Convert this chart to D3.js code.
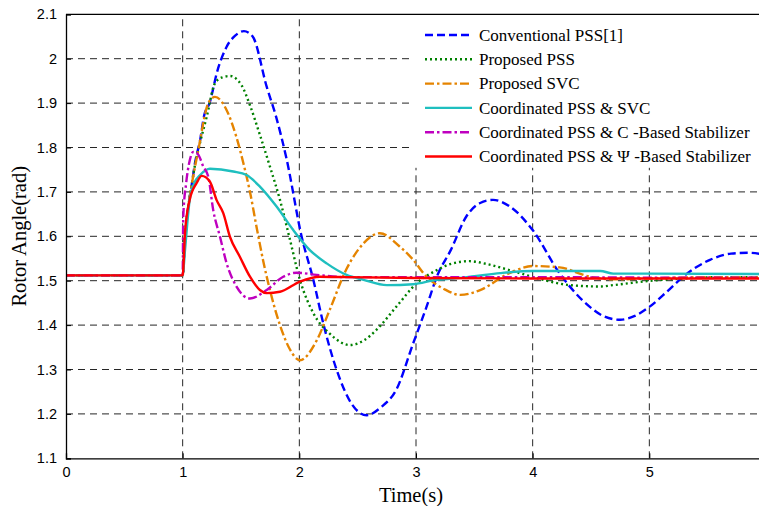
<!DOCTYPE html>
<html>
<head>
<meta charset="utf-8">
<script src="https://cdn.jsdelivr.net/npm/d3@7"></script>
<style>
  body { margin: 0; background: #fff; }
  svg { display: block; }
</style>
</head>
<body>
<svg id="drawing_region"></svg>
<script>
// values
const xticks = [0, 1, 2, 3, 4, 5];
const yticks = [1.1, 1.2, 1.3, 1.4, 1.5, 1.6, 1.7, 1.8, 1.9, 2.0, 2.1];
const ytick_labels = ['1.1', '1.2', '1.3', '1.4', '1.5', '1.6', '1.7', '1.8', '1.9', '2', '2.1'];

const labels = [
    'Conventional PSS[1]',
    'Proposed PSS',
    'Proposed SVC',
    'Coordinated PSS & SVC',
    'Coordinated PSS & C -Based Stabilizer',
    'Coordinated PSS & \u03A8 -Based Stabilizer'
];

const conv_t = [0, 1.0, 1.02, 1.05, 1.08, 1.105, 1.15, 1.185, 1.23, 1.3, 1.377, 1.45, 1.525, 1.6, 1.72, 1.8, 1.89, 2.02, 2.12, 2.205, 2.32, 2.45, 2.577, 2.7, 2.83, 2.976, 3.09, 3.18, 3.3, 3.43, 3.55, 3.66, 3.8, 4.0, 4.23, 4.49, 4.6, 4.75, 4.87, 5.0, 5.15, 5.29, 5.52, 5.7, 5.85, 6.0];
const conv_v = [1.512, 1.512, 1.60, 1.67, 1.72, 1.764, 1.817, 1.873, 1.90, 1.975, 2.027, 2.052, 2.062, 2.05, 1.937, 1.87, 1.775, 1.599, 1.502, 1.404, 1.299, 1.222, 1.197, 1.215, 1.254, 1.359, 1.441, 1.51, 1.57, 1.644, 1.675, 1.682, 1.668, 1.614, 1.517, 1.441, 1.421, 1.412, 1.42, 1.441, 1.475, 1.509, 1.547, 1.561, 1.563, 1.558];

const pss_t = [0, 1.0, 1.02, 1.05, 1.08, 1.105, 1.15, 1.206, 1.277, 1.34, 1.405, 1.505, 1.577, 1.66, 1.748, 1.834, 1.92, 2.005, 2.12, 2.26, 2.434, 2.55, 2.66, 2.83, 3.005, 3.18, 3.3, 3.46, 3.6, 3.8, 4.09, 4.32, 4.58, 4.69, 4.98, 5.3, 5.6, 6.0];
const pss_v = [1.512, 1.512, 1.60, 1.67, 1.72, 1.76, 1.812, 1.869, 1.945, 1.958, 1.961, 1.94, 1.895, 1.83, 1.757, 1.682, 1.592, 1.502, 1.427, 1.381, 1.355, 1.365, 1.389, 1.441, 1.494, 1.524, 1.538, 1.544, 1.538, 1.524, 1.502, 1.490, 1.487, 1.490, 1.499, 1.505, 1.508, 1.508];

const svc_t = [0, 1.0, 1.02, 1.05, 1.08, 1.134, 1.22, 1.277, 1.377, 1.46, 1.52, 1.577, 1.634, 1.69, 1.748, 1.834, 1.92, 2.005, 2.15, 2.26, 2.40, 2.55, 2.69, 2.86, 2.976, 3.09, 3.15, 3.25, 3.38, 3.55, 3.80, 4.0, 4.23, 4.49, 4.7, 5.0, 5.5, 6.0];
const svc_v = [1.512, 1.512, 1.60, 1.67, 1.72, 1.794, 1.90, 1.914, 1.884, 1.824, 1.765, 1.70, 1.62, 1.545, 1.479, 1.40, 1.345, 1.321, 1.366, 1.434, 1.524, 1.584, 1.607, 1.577, 1.547, 1.509, 1.496, 1.48, 1.468, 1.479, 1.517, 1.533, 1.530, 1.509, 1.503, 1.505, 1.508, 1.507];

const pss_svc_t = [0, 1.0, 1.02, 1.06, 1.1, 1.15, 1.234, 1.434, 1.548, 1.662, 1.805, 1.948, 2.09, 2.234, 2.405, 2.55, 2.75, 2.976, 3.18, 3.29, 3.5, 3.72, 4.0, 4.58, 4.69, 5.0, 6.0];
const pss_svc_v = [1.512, 1.512, 1.569, 1.682, 1.72, 1.738, 1.752, 1.746, 1.738, 1.712, 1.667, 1.614, 1.569, 1.539, 1.513, 1.502, 1.490, 1.492, 1.502, 1.504, 1.51, 1.517, 1.522, 1.522, 1.516, 1.516, 1.515];

const c_based_t = [0, 1.0, 1.005, 1.03, 1.06, 1.09, 1.13, 1.177, 1.22, 1.262, 1.32, 1.377, 1.463, 1.577, 1.72, 1.862, 1.977, 2.15, 2.4, 3.0, 4.0, 5.0, 6.0];
const c_based_v = [1.512, 1.512, 1.644, 1.72, 1.77, 1.79, 1.785, 1.757, 1.734, 1.659, 1.599, 1.539, 1.486, 1.460, 1.479, 1.509, 1.518, 1.513, 1.508, 1.508, 1.508, 1.507, 1.507];

const psi_based_t = [0, 1.0, 1.02, 1.06, 1.12, 1.163, 1.234, 1.29, 1.348, 1.405, 1.49, 1.577, 1.662, 1.72, 1.834, 2.005, 2.177, 2.405, 3.0, 4.0, 5.0, 6.0];
const psi_based_v = [1.512, 1.512, 1.607, 1.682, 1.72, 1.736, 1.723, 1.682, 1.652, 1.599, 1.554, 1.509, 1.479, 1.472, 1.475, 1.498, 1.509, 1.508, 1.506, 1.505, 1.505, 1.505];

const series = [
    { t: conv_t,      v: conv_v,      color: '#0000ff', dash: '8,4' },
    { t: pss_t,       v: pss_v,       color: '#008000', dash: '2,3' },
    { t: svc_t,       v: svc_v,       color: '#e58400', dash: '9,3,2.5,3' },
    { t: pss_svc_t,   v: pss_svc_v,   color: '#1fbfbf', dash: null },
    { t: c_based_t,   v: c_based_v,   color: '#bf00bf', dash: '9,3,2.5,3' },
    { t: psi_based_t, v: psi_based_v, color: '#ff0000', dash: null }
];

const config = {
    width: 759,
    height: 506,
    margin: { top: 14.3, right: -7, bottom: 47.7, left: 66 }
};

const svg = d3.select('#drawing_region')
    .attr('width', config.width)
    .attr('height', config.height);

const x0 = config.margin.left;
const x1 = config.width - config.margin.right;
const y0 = config.height - config.margin.bottom;
const y1 = config.margin.top;

const xscale = d3.scaleLinear().domain([0, 6]).range([x0, x1]);
const yscale = d3.scaleLinear().domain([1.1, 2.1]).range([y0, y1]);

svg.append('defs').append('clipPath')
    .attr('id', 'plot_clip')
    .append('rect')
    .attr('x', x0).attr('y', y1)
    .attr('width', x1 - x0).attr('height', y0 - y1);

// grid
const grid = svg.append('g')
    .attr('stroke', '#262626')
    .attr('stroke-width', 1)
    .attr('stroke-dasharray', '7,5');

grid.selectAll('.vgrid')
    .data(xticks.slice(1))
    .enter()
    .append('line')
    .attr('x1', d => xscale(d)).attr('x2', d => xscale(d))
    .attr('y1', y0).attr('y2', y1);

grid.selectAll('.hgrid')
    .data(yticks.slice(1, -1))
    .enter()
    .append('line')
    .attr('x1', x0).attr('x2', x1)
    .attr('y1', d => yscale(d)).attr('y2', d => yscale(d));

// curves
const line = d3.line()
    .x(d => xscale(d[0]))
    .y(d => yscale(d[1]))
    .curve(d3.curveMonotoneX);

svg.append('g')
    .attr('clip-path', 'url(#plot_clip)')
    .selectAll('path')
    .data(series)
    .enter()
    .append('path')
    .attr('d', s => line(s.t.map((t, i) => [t, s.v[i]])))
    .attr('fill', 'none')
    .attr('stroke', s => s.color)
    .attr('stroke-width', 2.4)
    .attr('stroke-dasharray', s => s.dash)
    .attr('stroke-linejoin', 'round');

// legend (white box, no border)
const legend = svg.append('g');
legend.append('rect')
    .attr('x', 410).attr('y', y1 + 1.5)
    .attr('width', config.width - 410).attr('height', 152)
    .attr('fill', '#fff');

const rows = legend.selectAll('.row')
    .data(series)
    .enter()
    .append('g')
    .attr('transform', (d, i) => `translate(0, ${35 + i * 24.3})`);

rows.append('line')
    .attr('x1', 425).attr('x2', 472)
    .attr('y1', 0).attr('y2', 0)
    .attr('stroke', d => d.color)
    .attr('stroke-width', 2.4)
    .attr('stroke-dasharray', d => d.dash);

rows.append('text')
    .attr('x', 479)
    .attr('y', 5.8)
    .attr('font-family', '"Liberation Serif", "Times New Roman", serif')
    .attr('font-size', '17px')
    .attr('fill', '#000')
    .text((d, i) => labels[i]);

// axes
const xaxis = d3.axisBottom(xscale).tickValues(xticks).tickSize(-5).tickPadding(8).tickFormat(d3.format('d'));
const yaxis = d3.axisLeft(yscale).tickValues(yticks).tickSize(-5).tickPadding(9).tickFormat((d, i) => ytick_labels[i]);

const xaxis_group = svg.append('g')
    .attr('transform', `translate(0, ${y0})`)
    .call(xaxis);

const yaxis_group = svg.append('g')
    .attr('transform', `translate(${x0}, 0)`)
    .call(yaxis);

[xaxis_group, yaxis_group].forEach(g => {
    g.select('.domain').attr('stroke', '#000').attr('stroke-width', 1.3);
    g.selectAll('.tick line').attr('stroke', '#000');
    g.selectAll('.tick text')
        .attr('font-family', '"Liberation Sans", Arial, sans-serif')
        .attr('font-size', '14.5px')
        .attr('fill', '#000');
});

// top border
svg.append('line')
    .attr('x1', x0).attr('x2', x1)
    .attr('y1', y1).attr('y2', y1)
    .attr('stroke', '#000').attr('stroke-width', 1.3);

// axis labels
svg.append('text')
    .attr('x', 411)
    .attr('y', 502)
    .attr('text-anchor', 'middle')
    .attr('font-family', '"Liberation Serif", "Times New Roman", serif')
    .attr('font-size', '20.5px')
    .text('Time(s)');

svg.append('text')
    .attr('transform', `translate(26, ${(y0 + y1) / 2}) rotate(-90)`)
    .attr('text-anchor', 'middle')
    .attr('font-family', '"Liberation Serif", "Times New Roman", serif')
    .attr('font-size', '20.5px')
    .text('Rotor Angle(rad)');
</script>
</body>
</html>
